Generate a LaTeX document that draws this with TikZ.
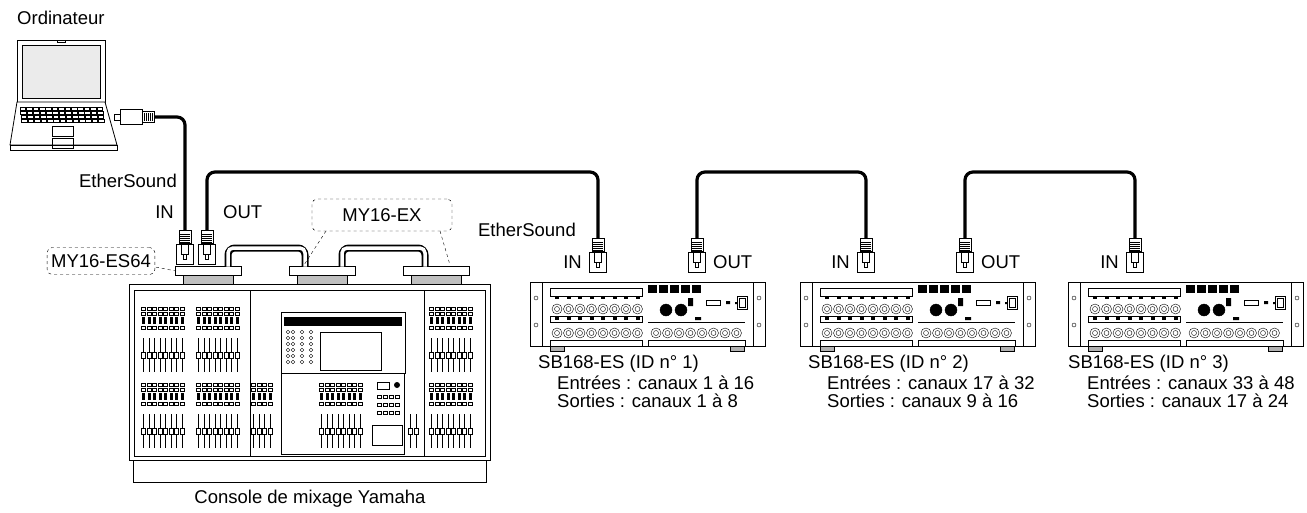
\documentclass[tikz,border=0pt]{standalone}
\usepackage{fontspec}
\setmainfont{Liberation Sans}
\usetikzlibrary{positioning,calc}

% plug: #1 name, #2 position of body centre
\newcommand{\rjplug}[2]{%
  \node (#1) [plug] at (#2) {};
  \node (#1b) [boot, above=0pt of #1] {};
  \draw ($(#1.north)+(-3.5,0)$) rectangle ($(#1.north)+(3.5,10)$);
  \draw ($(#1.north)+(-1.5,10)$) -- ++(0,5) -- ++(3,0) -- ++(0,-5);
  \foreach \k in {2,4,6,8,10} \draw ($(#1b.south west)+(1.5,-\k)$) -- ($(#1b.south east)+(-1.5,-\k)$);
}

% SB168-ES unit: #1 left edge x
\newcommand{\sbunit}[1]{%
  \begin{scope}[xshift=#1]
    \draw[thick,fill=white] (0,282) rectangle (235,346);
    \draw (12,282) -- (12,346) (223,282) -- (223,346);
    \draw (6,298) circle (2) (6,325) circle (2) (229,298) circle (2) (229,325) circle (2);
    \draw (20,288) rectangle (112,296) (20,316) rectangle (112,322);
    \draw (20,340) rectangle (112,346) (118,340) rectangle (215,346);
    \draw (118,322) -- (215,322);
    \foreach \i in {0,...,7} {
      \fill (25+\i*11.5,296) rectangle ++(4,3);
      \fill (25+\i*11.5,317) rectangle ++(4,3);
      \draw (27+\i*11.5,309) circle (5) (27+\i*11.5,309) circle (2.5);
      \draw (27+\i*11.5,333) circle (5) (27+\i*11.5,333) circle (2.5);
      \draw (126+\i*11.5,333) circle (5) (126+\i*11.5,333) circle (2.5);
    }
    \foreach \i in {0,...,4} \fill (118+\i*11,285) rectangle ++(9,8);
    \draw[fill] (136,310) circle (6) (151,310) circle (6);
    \fill (165,317) rectangle ++(6,3) (158,298) rectangle ++(5,8);
    \draw (176,300) rectangle ++(14,5);
    \fill (196,301) rectangle ++(4,3) (205,302) rectangle ++(2,2);
    \draw (207,296) rectangle ++(10,13) (209,298) rectangle ++(6,9);
    \draw[fill=black!30] (20,346) rectangle ++(14,5) (200,346) rectangle ++(14,5);
  \end{scope}
}

% fader block: #1 x, #2 y, #3 count
\newcommand{\faderblock}[3]{%
  \foreach \i in {1,...,#3} {
    \draw[semithick] (#1+\i*5.5,#2) -- ++(0,34);
    \draw[fill=white] (#1+\i*5.5-2,#2+14) rectangle ++(4,6);
  }
}
% button block: #1 x, #2 y, #3 count
\newcommand{\buttonblock}[3]{%
  \foreach \i in {1,...,#3} {
    \draw (#1+\i*5.5-2,#2) rectangle ++(4,3);
    \draw (#1+\i*5.5-2,#2+5) rectangle ++(4,3);
    \fill (#1+\i*5.5-1.5,#2+10) rectangle ++(3,7);
    \draw (#1+\i*5.5-2,#2+19) rectangle ++(4,3);
  }
}

\begin{document}
\begin{tikzpicture}[x=1pt,y=-1pt,
    every node/.style={font=\fontsize{18.5}{22}\selectfont},
    plug/.style={draw, fill=white, minimum width=17pt, minimum height=20pt, inner sep=0pt},
    boot/.style={draw, fill=white, minimum width=12pt, minimum height=13pt, inner sep=0pt},
    cable/.style={line width=3.2pt, rounded corners=8pt},
    callout/.style={draw, dashed, rounded corners=5pt, inner sep=4pt, fill=white},
    lbl/.style={anchor=west, inner sep=0pt}]
  \useasboundingbox (0,0) rectangle (1307,512);

  % computer
  \node (pc) [lbl, anchor=west] at (17,18) {Ordinateur};
  \draw[thick, fill=white] (17,40) rectangle (105,102);
  \draw[fill=black!8] (22,45) rectangle (100,98);
  \draw (57,40) rectangle ++(8,2);
  \draw[thick, fill=white] (17,102) -- (10,145) -- (117,145) -- (105,102) -- cycle;
  \draw[thick] (10,145) rectangle (117,150);
  \foreach \r in {0,...,3} \foreach \c in {0,...,12}
    \draw (20+\c*6.4+\r*0.5,107+\r*4) rectangle ++(5.6,3.2);
  \draw (52,126) rectangle (73,136) (52,138) rectangle (73,148);
  % laptop plug (horizontal)
  \node (pcplug) [draw, fill=white, minimum width=22pt, minimum height=15pt, inner sep=0pt] at (131,117) {};
  \node (pcboot) [draw, fill=white, minimum width=12pt, minimum height=11pt, inner sep=0pt, right=0pt of pcplug] {};
  \draw (pcplug.west) ++(0,-3) -- ++(-6,0) -- ++(0,6) -- ++(6,0);
  \foreach \k in {2,4,6,8,10} \draw ($(pcboot.west)+(\k,-4)$) -- ++(0,8);

  % console
  \node (console) [lbl, anchor=north] at (310,490) {Console de mixage Yamaha};
  \draw[thick] (133,460) rectangle (486,482);
  \draw[thick, fill=white] (129,284) rectangle (490,460);
  \draw (134,290) rectangle (485,456);
  \draw (250,290) -- (250,456) (424,290) -- (424,456);
  \draw[thick] (281,312) rectangle (405,373);
  \fill (284,317) rectangle (402,326);
  \draw (320,332) rectangle (381,370);
  \foreach \r in {0,...,5} {
    \draw (288,332+\r*6) circle (1.8) (293,332+\r*6) circle (1.8);
    \draw (302,332+\r*6) circle (1.8) (311,332+\r*6) circle (1.8);
  }
  \draw (281,373) rectangle (404,454);
  \faderblock{138}{338}{8}
  \faderblock{193}{338}{8}
  \faderblock{138}{414}{8}
  \faderblock{193}{414}{8}
  \faderblock{426}{338}{8}
  \faderblock{426}{414}{8}
  \faderblock{248}{414}{4}
  \faderblock{316}{414}{8}
  \faderblock{405}{414}{2}
  \buttonblock{138}{307}{8}
  \buttonblock{193}{307}{8}
  \buttonblock{426}{307}{8}
  \buttonblock{138}{383}{8}
  \buttonblock{193}{383}{8}
  \buttonblock{426}{383}{8}
  \buttonblock{248}{383}{4}
  \buttonblock{316}{383}{8}
  \foreach \r in {0,1,2} \foreach \c in {0,...,3} \draw (377+\c*6,395+\r*8) rectangle ++(4,3);
  \draw (372,425) rectangle (402,445);
  \draw (377,382) rectangle ++(12,7);
  \fill (397,385) circle (3);
  % option card slots
  \foreach \sx/\nm in {175/slotA, 289/slotB, 403/slotC} {
    \draw[fill=black!25] (\sx+8,275) rectangle (\sx+58,284);
    \node (\nm) [draw, fill=white, minimum width=66pt, minimum height=9pt, inner sep=0pt, anchor=north west] at (\sx,266) {};
  }
  % card to card loops
  \foreach \a/\b in {228/305, 342/425} {
    \draw[line width=7pt, rounded corners=7pt] (\a,266) -- (\a,248) -- (\b,248) -- (\b,266);
    \draw[line width=3.5pt, white, rounded corners=5pt] (\a,266.5) -- (\a,248) -- (\b,248) -- (\b,266.5);
  }

  % EtherSound plugs
  \rjplug{esIn}{185,254}
  \rjplug{esOut}{207,254}
  \rjplug{sbAin}{598,262}
  \rjplug{sbAout}{697,262}
  \rjplug{sbBin}{866,262}
  \rjplug{sbBout}{965,262}
  \rjplug{sbCin}{1135,262}

  % cables
  \coordinate (busA) at (400,172);
  \coordinate (busB) at (780,172);
  \coordinate (busC) at (1050,172);
  \draw[cable] (pcboot.east) -| (esInb.north);
  \draw[cable] (esOutb.north) |- (busA) -| (sbAinb.north);
  \draw[cable] (sbAoutb.north) |- (busB) -| (sbBinb.north);
  \draw[cable] (sbBoutb.north) |- (busC) -| (sbCinb.north);

  % labels
  \node (esLabel) [lbl, anchor=east] at (177,181) {EtherSound};
  \node (inLabel) [lbl, anchor=east] at (174,212) {IN};
  \node (outLabel) [lbl] at (223,212) {OUT};
  \node (esLabelB) [lbl, anchor=east] at (576,230) {EtherSound};
  \node (sbAinL) [left=4pt of sbAin] {IN};
  \node (sbAoutL) [right=4pt of sbAout] {OUT};
  \node (sbBinL) [left=4pt of sbBin] {IN};
  \node (sbBoutL) [right=4pt of sbBout] {OUT};
  \node (sbCinL) [left=4pt of sbCin] {IN};

  % callouts
  \draw[dashed] (326,231) -- (304,265) (440,231) -- (450,265);
  \node (myEx) [callout, minimum width=140pt, minimum height=32pt] at (382,215) {MY16-EX};
  \draw[dashed] (150,266) -- (176,271);
  \node (myEs) [callout, minimum width=104pt, minimum height=27pt] at (101,261) {MY16-ES64};

  % stage boxes
  \sbunit{530}
  \sbunit{800}
  \sbunit{1068}
  \foreach \ux/\id/\inA/\inB/\outA/\outB in {538/1/1/16/1/8, 808/2/17/32/9/16, 1068/3/33/48/17/24} {
    \node [lbl] at (\ux,364) {SB168-ES (ID n\textdegree\ \id)};
    \node [lbl] at (\ux+19,383) {Entrées : canaux \inA\ à \inB};
    \node [lbl] at (\ux+19,401) {Sorties : canaux \outA\ à \outB};
  }
\end{tikzpicture}
\end{document}
